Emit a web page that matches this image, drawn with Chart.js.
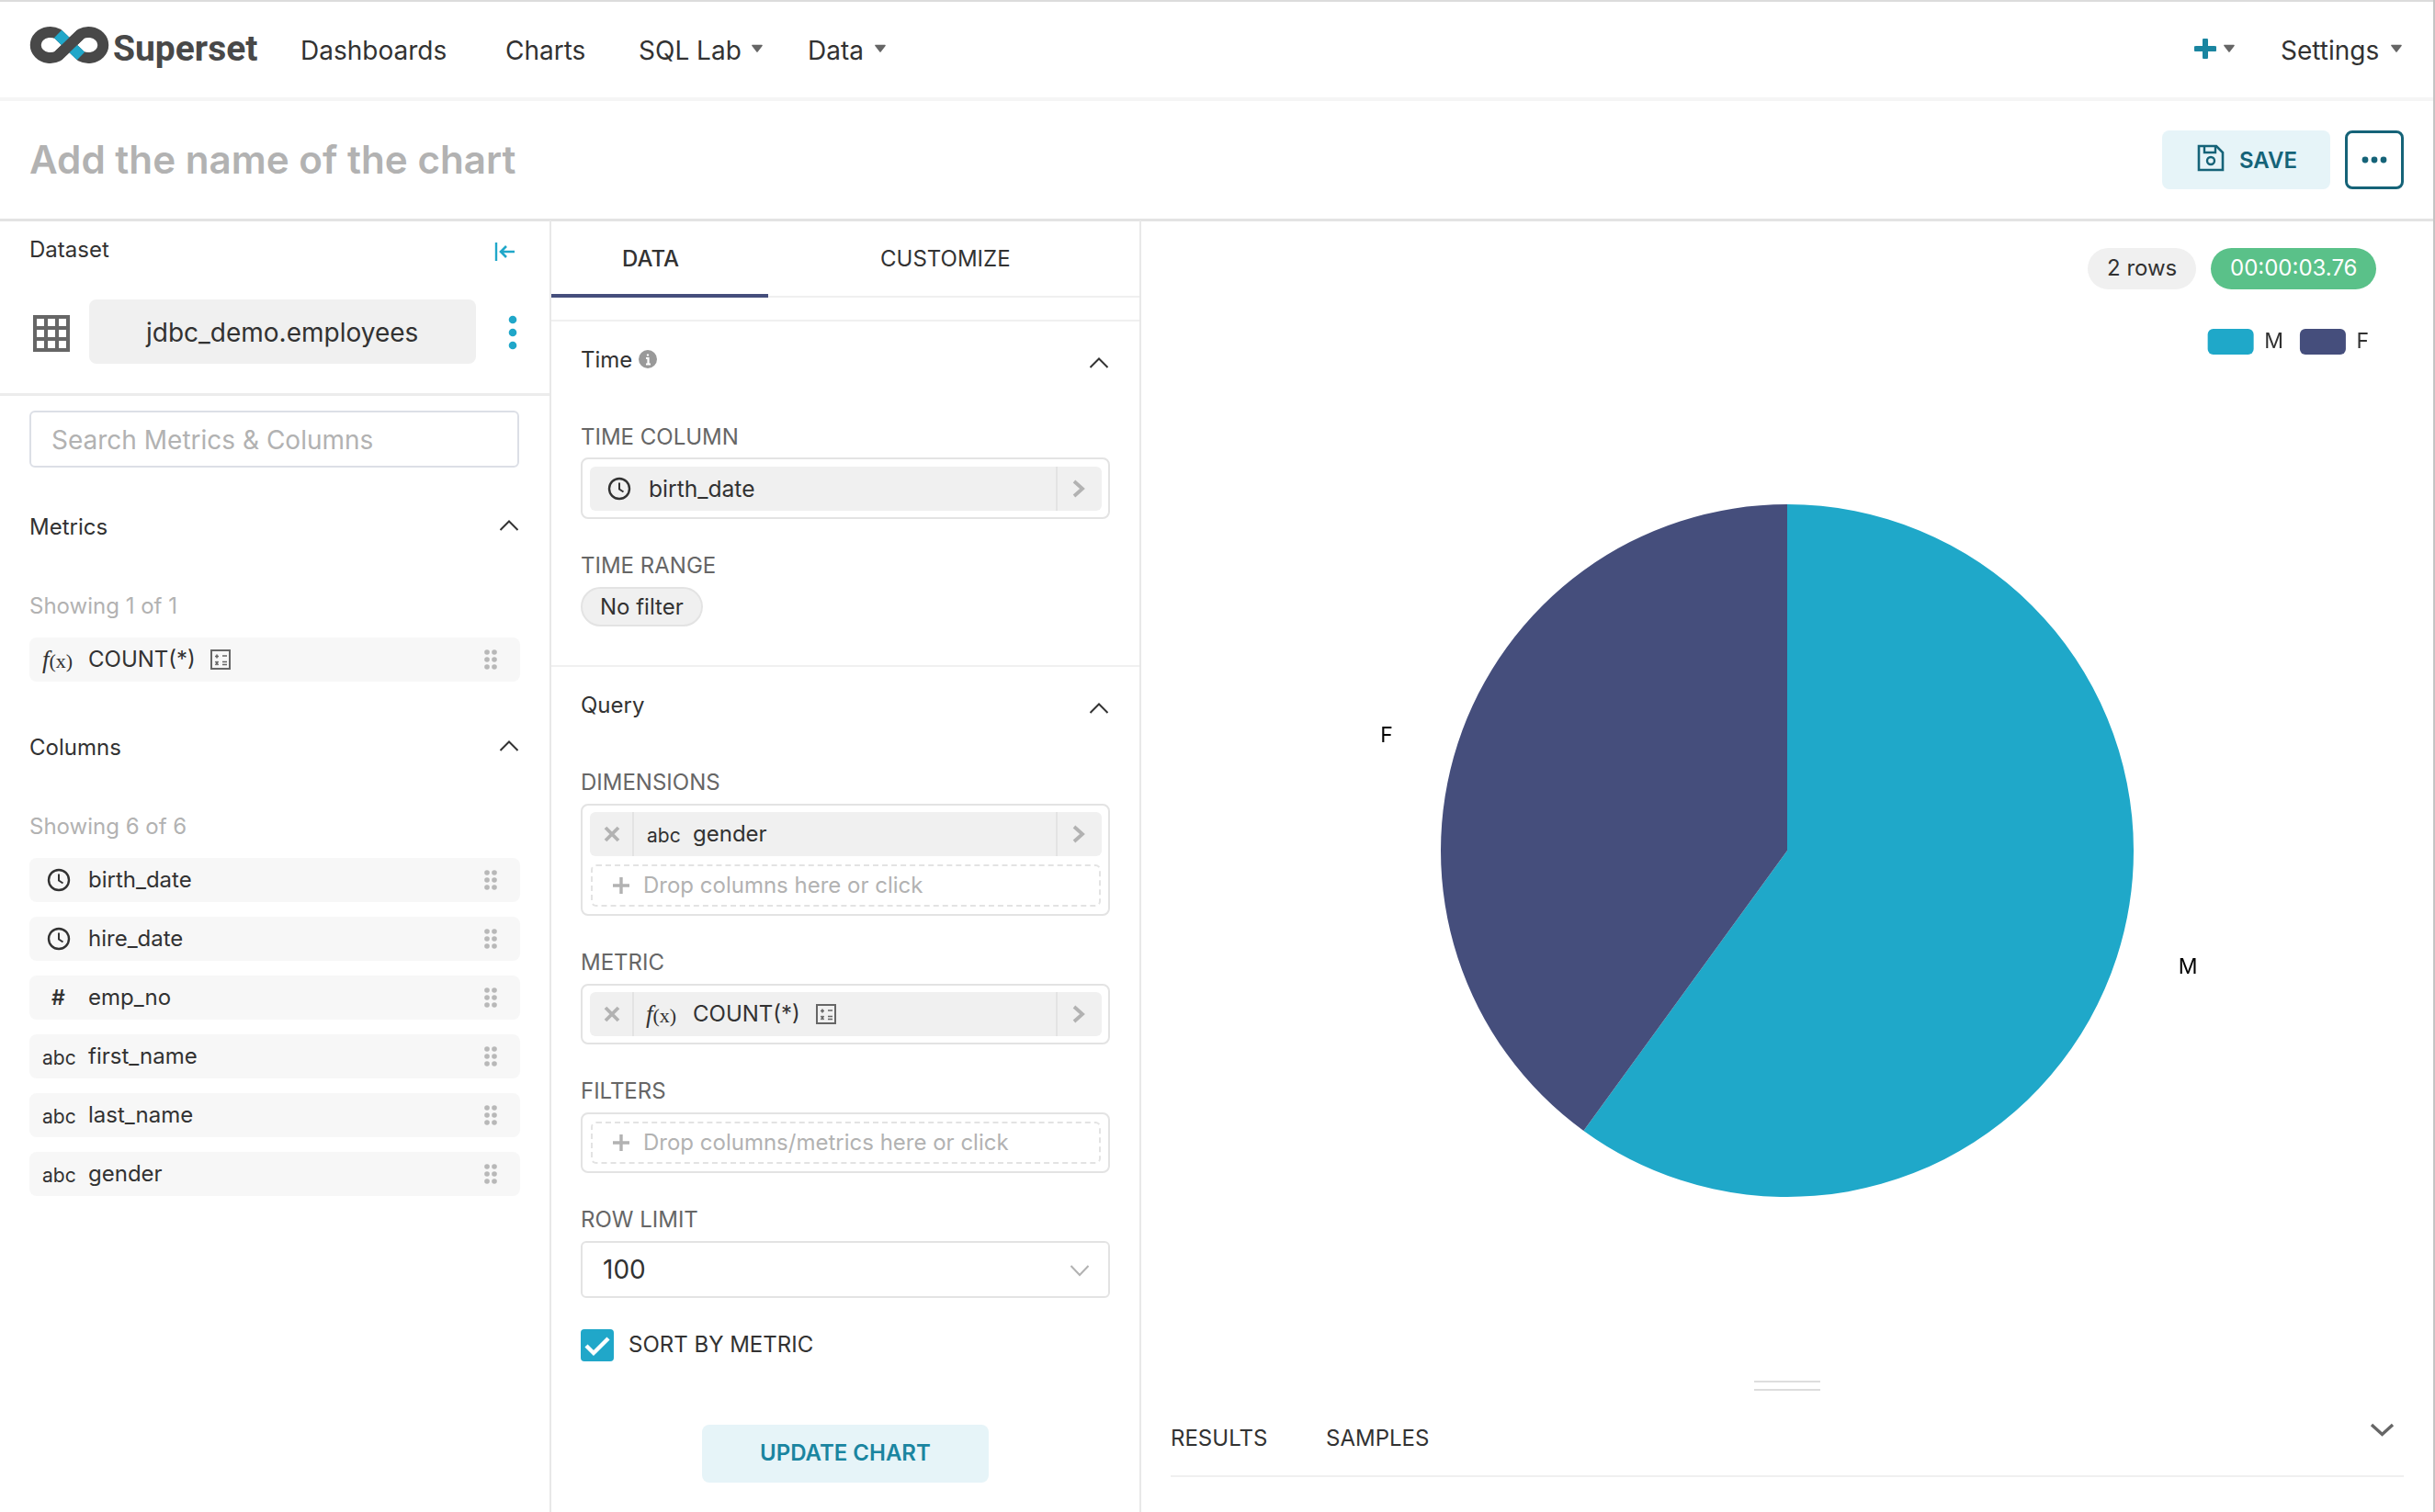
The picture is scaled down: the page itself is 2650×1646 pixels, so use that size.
<!DOCTYPE html>
<html>
<head>
<meta charset="utf-8">
<title>Superset</title>
<script src="https://cdn.jsdelivr.net/npm/chart.js@4/dist/chart.umd.min.js"></script>
<style>
  html, body { margin: 0; padding: 0; background: #fff; }
  #app { position: relative; width: 2650px; height: 1646px; overflow: hidden; background: #fff; font-family: Inter, "Noto Sans", sans-serif; color: #323232; }
  #app > * { position: absolute; }
  .t { white-space: nowrap; transform: translateY(-50%); line-height: 1; }
  .box { box-sizing: border-box; }
  canvas { display: block; }
</style>
</head>
<body>
<div id="app"></div>
<script>
// chart data
const genders = ['M', 'F'];
const counts = [60, 40];
const sliceColors = ['#1FA8C9', '#454E7C'];

// sidebar lists
const metricNames = ['COUNT(*)'];
const columnNames = ['birth_date', 'hire_date', 'emp_no', 'first_name', 'last_name', 'gender'];
const columnTypes = ['time', 'time', 'num', 'abc', 'abc', 'abc'];

const app = document.getElementById('app');
let html = '';

function text(x, y, s, size, color, weight, family) {
  html += `<div class="t" style="left:${x - 1}px;top:${y + 1}px;font-size:${size}px;color:${color || '#323232'};font-weight:${weight || 400};${family ? 'font-family:' + family : ''}">${s}</div>`;
}
function rect(x, y, w, h, bg, extra) {
  html += `<div class="box" style="left:${x}px;top:${y}px;width:${w}px;height:${h}px;background:${bg};${extra || ''}"></div>`;
}
function svg(x, y, w, h, inner) {
  html += `<svg style="left:${x}px;top:${y}px" width="${w}" height="${h}" viewBox="0 0 ${w} ${h}" fill="none">${inner}</svg>`;
}
function caret(x, y) {
  svg(x - 6, y - 5, 12, 9, '<path d="M1 1.5 H11 L6 8 Z" fill="#666" stroke="#666" stroke-width="1.6" stroke-linejoin="round"/>');
}
function chevronUp(x, y) {
  svg(x - 11, y - 7, 22, 14, '<path d="M1.5 12 L11 2.5 L20.5 12" stroke="#323232" stroke-width="2"/>');
}
function clock(x, y) {
  svg(x - 13, y - 13, 26, 26, '<circle cx="13" cy="13" r="11" stroke="#323232" stroke-width="2.4"/><path d="M13 6.5 V13.5 L17.5 16.5" stroke="#323232" stroke-width="2"/>');
}
function fx(x, y) {
  html += `<div class="t" style="left:${x}px;top:${y}px;font-family:'Liberation Serif',serif;font-size:22px;color:#323232"><i style="font-size:27px">f</i>(x)</div>`;
}
function calc(x, y) {
  svg(x, y, 22, 22, '<rect x="1" y="1" width="20" height="20" stroke="#666" stroke-width="2"/><path d="M5 7.5 H9 M7 5.5 V9.5 M13 7 H18 M5.5 13 L8.5 17 M8.5 13 L5.5 17 M13 13.5 H18 M13 16.5 H18" stroke="#666" stroke-width="1.6"/>');
}
function grip(x, y) {
  let dots = '';
  [4, 12].forEach(cx => [3, 11, 19].forEach(cy => { dots += `<circle cx="${cx}" cy="${cy}" r="2.8" fill="#b8b8b8"/>`; }));
  svg(x, y - 11, 16, 22, dots);
}
function arrowRight(x, y) {
  svg(x - 7, y - 10, 14, 20, '<path d="M2 2 L11 10 L2 18" stroke="#b2b2b2" stroke-width="3.8"/>');
}
function cross(x, y) {
  svg(x - 9, y - 9, 18, 18, '<path d="M2 2 L16 16 M16 2 L2 16" stroke="#b2b2b2" stroke-width="3.8"/>');
}
function plus(x, y) {
  svg(x - 11, y - 11, 22, 22, '<path d="M11 2 V20 M2 11 H20" stroke="#b2b2b2" stroke-width="3.4"/>');
}

// page frame
rect(0, 0, 2650, 2, '#dcdcdc');
rect(0, 106, 2648, 4, '#f5f5f5');
rect(0, 238, 2648, 3, '#e3e3e3');
rect(598, 240, 2, 1406, '#e8e8e8');
rect(1240, 240, 2, 1406, '#e8e8e8');
rect(2648, 0, 2, 1646, '#c4c4c4');

// navbar
svg(30, 26, 90, 46, '<path d="M33 35 L58 11 A16 14 0 1 1 58 35 L33 11 A16 14 0 1 0 33 35 Z" stroke="#484848" stroke-width="12" stroke-linejoin="round"/><path d="M33 11 L58 35" stroke="#20A7C9" stroke-width="12"/><path d="M33 35 L58 11" stroke="#484848" stroke-width="12"/>');
text(124, 52, 'Superset', 39, '#484848', 700, 'Roboto');
text(328, 54, 'Dashboards', 28);
text(551, 54, 'Charts', 28);
text(696, 54, 'SQL Lab', 28);
caret(824, 53);
text(880, 54, 'Data', 28);
caret(958, 53);
svg(2388, 42, 24, 22, '<path d="M12 2 V20 M2 11 H22" stroke="#1A85A0" stroke-width="6" stroke-linecap="round"/>');
caret(2426, 53);
text(2483, 54, 'Settings', 28);
caret(2608, 53);

// title row
text(33, 173, 'Add the name of the chart', 42.2, '#b2b2b2', 600);
rect(2353, 142, 183, 64, '#E6F4F8', 'border-radius:8px');
svg(2391, 157, 30, 30, '<path d="M2 2 H21 L28 9 V28 H2 Z" stroke="#156378" stroke-width="2.6"/><path d="M8 2 V9 H20 V2" stroke="#156378" stroke-width="2.4"/><circle cx="15" cy="18" r="4" stroke="#156378" stroke-width="2.4"/>');
text(2438, 174, 'SAVE', 24, '#156378', 600);
rect(2552, 142, 64, 64, '#fff', 'border:3px solid #156378;border-radius:8px');
svg(2568, 168, 32, 12, '<circle cx="6" cy="6" r="3.4" fill="#156378"/><circle cx="16" cy="6" r="3.4" fill="#156378"/><circle cx="26" cy="6" r="3.4" fill="#156378"/>');

// dataset panel
text(33, 271, 'Dataset', 24);
svg(537, 262, 24, 24, '<path d="M3 2 V22" stroke="#20A7C9" stroke-width="2.4"/><path d="M23 12 H8 M14 6 L8 12 L14 18" stroke="#20A7C9" stroke-width="2.6"/>');
svg(36, 343, 40, 40, '<rect x="2" y="2" width="36" height="36" stroke="#666" stroke-width="4"/><path d="M14 2 V38 M26 2 V38 M2 14 H38 M2 26 H38" stroke="#666" stroke-width="4"/>');
rect(97, 326, 421, 70, '#f0f0f0', 'border-radius:8px');
text(160, 361, 'jdbc_demo.employees', 28);
svg(552, 342, 12, 40, '<circle cx="6" cy="6" r="4.3" fill="#20A7C9"/><circle cx="6" cy="20" r="4.3" fill="#20A7C9"/><circle cx="6" cy="34" r="4.3" fill="#20A7C9"/>');
rect(0, 428, 598, 3, '#ececec');
rect(32, 447, 533, 62, '#fff', 'border:2px solid #dcdfe6;border-radius:6px');
text(57, 478, 'Search Metrics &amp; Columns', 28, '#b2b2b2');

text(33, 573, 'Metrics', 24);
chevronUp(554, 572);
text(33, 659, 'Showing 1 of 1', 24, '#b2b2b2');
metricNames.forEach(name => {
  rect(32, 694, 534, 48, '#f7f7f7', 'border-radius:8px');
  fx(46, 718);
  text(97, 717, name, 24);
  calc(229, 707);
  grip(526, 718);
});

text(33, 813, 'Columns', 24);
chevronUp(554, 812);
text(33, 899, 'Showing 6 of 6', 24, '#b2b2b2');
columnNames.forEach((name, i) => {
  const cy = 957.5 + i * 64;
  rect(32, cy - 24, 534, 48, '#f7f7f7', 'border-radius:8px');
  if (columnTypes[i] === 'time') clock(64, cy);
  else if (columnTypes[i] === 'num') text(57, cy - 1, '#', 23, '#323232', 600);
  else text(47, cy, 'abc', 21);
  text(97, cy - 1, name, 24);
  grip(526, cy);
});

// control panel tabs
text(678, 281, 'DATA', 24, '#323232', 500);
text(959, 281, 'CUSTOMIZE', 24);
rect(600, 322, 640, 2, '#f0f0f0');
rect(600, 320, 236, 4, '#454E7C');
rect(600, 348, 640, 2, '#f0f0f0');

// time section
text(633, 391, 'Time', 24);
svg(695, 381, 20, 20, '<circle cx="10" cy="10" r="10" fill="#999"/><path d="M10 4.5 V6.5 M8 9 H10.5 V15 M8 15.5 H13" stroke="#fff" stroke-width="2.2"/>');
chevronUp(1196, 395);
text(633, 475, 'TIME COLUMN', 24, '#666');
rect(632, 498, 576, 67, '#fff', 'border:2.5px solid #e3e3e3;border-radius:8px');
rect(642, 508, 557, 48, '#f0f0f0', 'border-radius:6px');
rect(1149, 508, 2, 48, '#e3e3e3');
clock(674, 532);
text(707, 531, 'birth_date', 24.6);
arrowRight(1174, 532);
text(633, 615, 'TIME RANGE', 24, '#666');
rect(632, 639, 133, 43, '#f0f0f0', 'border:2px solid #e3e3e3;border-radius:22px');
text(654, 660, 'No filter', 24);
rect(600, 724, 640, 2, '#f0f0f0');

// query section
text(633, 767, 'Query', 24);
chevronUp(1196, 771);
text(633, 851, 'DIMENSIONS', 24, '#666');
rect(632, 875, 576, 122, '#fff', 'border:2.5px solid #e3e3e3;border-radius:8px');
rect(642, 884, 557, 48, '#f0f0f0', 'border-radius:6px');
rect(688, 884, 2, 48, '#e3e3e3');
rect(1149, 884, 2, 48, '#e3e3e3');
cross(666, 908);
text(705, 908, 'abc', 21);
text(755, 907, 'gender', 24);
arrowRight(1174, 908);
rect(643, 941, 555, 46, '#fff', 'border:2px dashed #e3e3e3;border-radius:6px');
plus(676, 964);
text(701, 963, 'Drop columns here or click', 24, '#b2b2b2');

text(633, 1047, 'METRIC', 24, '#666');
rect(632, 1071, 576, 66, '#fff', 'border:2.5px solid #e3e3e3;border-radius:8px');
rect(642, 1080, 557, 48, '#f0f0f0', 'border-radius:6px');
rect(688, 1080, 2, 48, '#e3e3e3');
rect(1149, 1080, 2, 48, '#e3e3e3');
cross(666, 1104);
fx(703, 1104);
text(755, 1103, 'COUNT(*)', 24);
calc(888, 1093);
arrowRight(1174, 1104);

text(633, 1187, 'FILTERS', 24, '#666');
rect(632, 1211, 576, 66, '#fff', 'border:2.5px solid #e3e3e3;border-radius:8px');
rect(643, 1221, 555, 46, '#fff', 'border:2px dashed #e3e3e3;border-radius:6px');
plus(676, 1244);
text(701, 1243, 'Drop columns/metrics here or click', 24, '#b2b2b2');

text(633, 1327, 'ROW LIMIT', 24, '#666');
rect(632, 1351, 576, 62, '#fff', 'border:2.5px solid #e3e3e3;border-radius:6px');
text(657, 1381, '100', 28);
svg(1164, 1376, 22, 14, '<path d="M1.5 2 L11 12 L20.5 2" stroke="#b2b2b2" stroke-width="2"/>');
rect(632, 1447, 36, 35, '#20A7C9', 'border-radius:4px');
svg(635, 1451, 30, 27, '<path d="M3 14 L11 22 L27 6" stroke="#fff" stroke-width="4.4"/>');
text(685, 1463, 'SORT BY METRIC', 24);
rect(764, 1551, 312, 63, '#E6F4F8', 'border-radius:8px');
text(828, 1581, 'UPDATE CHART', 24, '#1A85A0', 600);

// result badges
rect(2272, 270, 118, 45, '#f0f0f0', 'border-radius:23px');
text(2294, 291, '2 rows', 24);
rect(2406, 270, 180, 45, '#5AC189', 'border-radius:23px');
text(2428, 291, '00:00:03.76', 24, '#fff');

// results area
rect(1909, 1503, 72, 2, '#ddd');
rect(1909, 1512, 72, 2, '#ddd');
text(1275, 1565, 'RESULTS', 24);
text(1444, 1565, 'SAMPLES', 24);
svg(2579, 1549, 28, 15, '<path d="M2 2 L13.5 12.5 L25 2" stroke="#666" stroke-width="3.4"/>');
rect(1274, 1606, 1342, 2, '#f0f0f0');

html += '<canvas id="pie" style="left:1244px;top:240px" width="1403" height="1240"></canvas>';
app.innerHTML = html;

// outer slice labels: out along the slice's mid angle, then a fixed run sideways
const outerLabels = {
  id: 'outerLabels',
  afterDatasetsDraw(chart) {
    const { ctx } = chart;
    ctx.save();
    ctx.font = '23px Inter';
    ctx.fillStyle = '#000';
    ctx.textAlign = 'center';
    ctx.textBaseline = 'middle';
    chart.getDatasetMeta(0).data.forEach((arc, i) => {
      const p = arc.getProps(['x', 'y', 'startAngle', 'endAngle', 'outerRadius'], true);
      const mid = (p.startAngle + p.endAngle) / 2;
      const r = p.outerRadius + 31;
      const side = Math.cos(mid) >= 0 ? 1 : -1;
      ctx.fillText(genders[i], p.x + Math.cos(mid) * r + side * 48, p.y + Math.sin(mid) * r + 1);
    });
    ctx.restore();
  }
};

new Chart(document.getElementById('pie'), {
  type: 'pie',
  data: {
    labels: genders,
    datasets: [{
      data: counts,
      backgroundColor: sliceColors,
      borderWidth: 0
    }]
  },
  options: {
    responsive: false,
    animation: false,
    radius: 377,
    layout: { padding: { top: 100, bottom: 24, left: 50, right: 51 } },
    plugins: {
      tooltip: { enabled: false },
      legend: {
        position: 'top',
        align: 'end',
        labels: {
          boxWidth: 50,
          boxHeight: 28,
          useBorderRadius: true,
          borderRadius: 6,
          padding: 18,
          color: '#323232',
          font: { family: 'Inter', size: 23 }
        }
      }
    }
  },
  plugins: [outerLabels]
});
</script>
</body>
</html>
